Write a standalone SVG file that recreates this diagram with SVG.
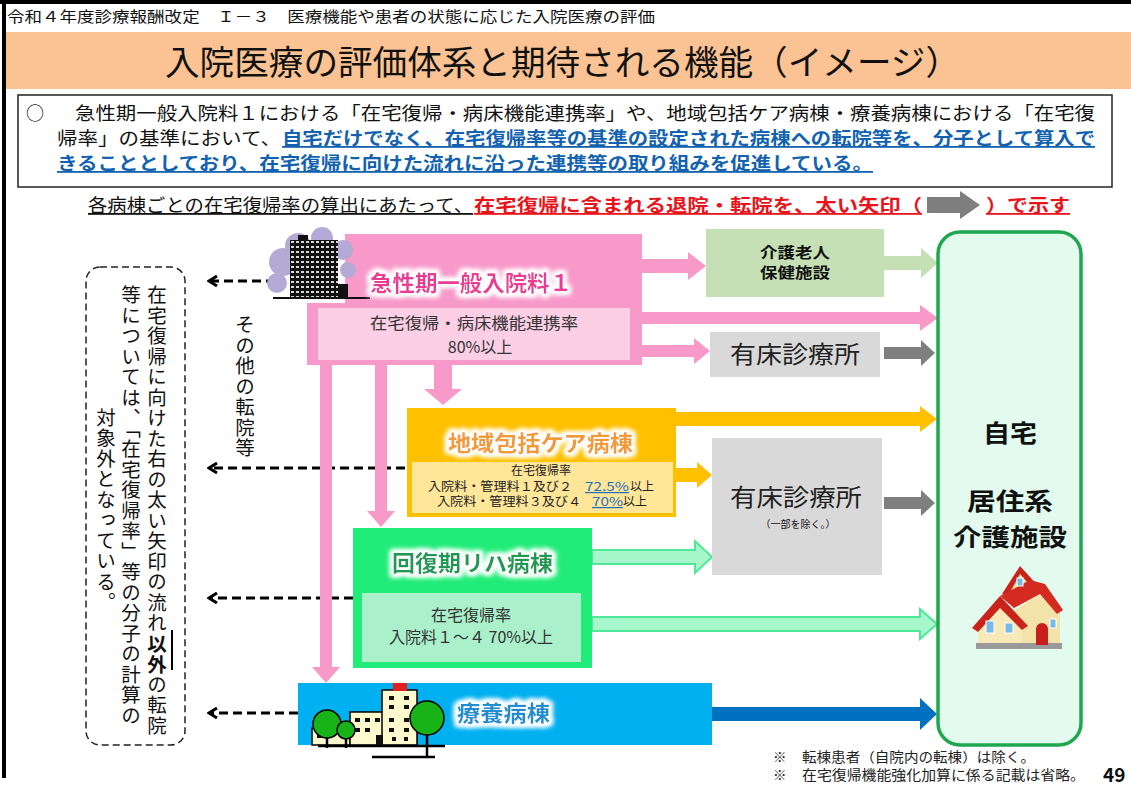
<svg xmlns="http://www.w3.org/2000/svg" width="1131" height="785" viewBox="0 0 1131 785">
<style>
text{font-family:"Noto Sans CJK JP","Noto Sans",sans-serif;fill:#111}
.hd{font-size:15px}
.ttl{font-size:34px}
.intro{font-size:18px}
.em{fill:#1262b0;font-weight:bold;text-decoration:underline}
.sub{font-size:18px;text-decoration:underline}
.red{fill:#e8141c;font-weight:bold}
.vt{font-size:19.5px;writing-mode:vertical-rl;letter-spacing:1px}
.wt{font-weight:bold;font-size:22px}
.sm{font-size:12px;fill:#222}
.md{font-size:16px;fill:#333}
.clinic{font-size:24px;fill:#222}
.home{font-size:24px;font-weight:bold;fill:#111}
.note{font-size:13.5px;fill:#222}
.dash{stroke:#000;stroke-width:3;stroke-dasharray:9 5;fill:none}
.pink{fill:#f79ac9}
.orng{fill:#ffc000}
.grn{fill:#a8f6cc;stroke:#4fe896;stroke-width:2}
.gry{fill:#7f7f7f}
</style>
<defs>
<filter id="glow" x="-20%" y="-50%" width="140%" height="200%">
<feMorphology in="SourceAlpha" operator="dilate" radius="2.5" result="d"/>
<feGaussianBlur in="d" stdDeviation="2.5" result="b"/>
<feFlood flood-color="#ffffff"/>
<feComposite in2="b" operator="in" result="g"/>
<feMerge><feMergeNode in="g"/><feMergeNode in="g"/><feMergeNode in="SourceGraphic"/></feMerge>
</filter>
<marker id="chev" viewBox="0 0 11 12" refX="9" refY="6" markerWidth="11" markerHeight="12" orient="auto" markerUnits="userSpaceOnUse">
<path d="M1,1 L9,6 L1,11" fill="none" stroke="#000" stroke-width="3" stroke-dasharray="none"/>
</marker>
<pattern id="win" width="5" height="5" patternUnits="userSpaceOnUse">
<rect x="1" y="1" width="3" height="2" fill="#d8d8d8"/>
</pattern>
</defs>

<!-- page frame -->
<g id="frame">
<rect x="0" y="0" width="1131" height="4" fill="#000"/>
<rect x="2" y="0" width="4" height="778" fill="#000"/>
</g>

<!-- header and title band -->
<g id="header">
<text class="hd" x="7" y="22" textLength="648" lengthAdjust="spacingAndGlyphs">令和４年度診療報酬改定　Ｉ－３　医療機能や患者の状態に応じた入院医療の評価</text>
<rect x="6" y="32" width="1125" height="57" fill="#fbc293"/>
<text class="ttl" x="165" y="75" textLength="795" lengthAdjust="spacingAndGlyphs">入院医療の評価体系と期待される機能（イメージ）</text>
</g>

<!-- summary box -->
<g id="intro">
<rect x="18" y="95" width="1094" height="92" fill="#fff" stroke="#222" stroke-width="1.5"/>
<text class="intro" x="26" y="120">○</text>
<text class="intro" x="75" y="120" textLength="1020" lengthAdjust="spacingAndGlyphs">急性期一般入院料１における「在宅復帰・病床機能連携率」や、地域包括ケア病棟・療養病棟における「在宅復</text>
<text class="intro" x="57" y="145" textLength="224" lengthAdjust="spacingAndGlyphs">帰率」の基準において、</text>
<text class="intro em" x="282" y="145" textLength="813" lengthAdjust="spacingAndGlyphs">自宅だけでなく、在宅復帰率等の基準の設定された病棟への転院等を、分子として算入で</text>
<text class="intro em" x="57" y="170" textLength="816" lengthAdjust="spacingAndGlyphs">きることとしており、在宅復帰に向けた流れに沿った連携等の取り組みを促進している。</text>
</g>

<!-- legend line -->
<g id="legend">
<text class="sub" x="88" y="212" textLength="385" lengthAdjust="spacingAndGlyphs">各病棟ごとの在宅復帰率の算出にあたって、</text>
<text class="sub red" x="474" y="212" textLength="448" lengthAdjust="spacingAndGlyphs">在宅復帰に含まれる退院・転院を、太い矢印（</text>
<polygon class="gry" points="927,197 960,197 960,191 980,205 960,219 960,213 927,213"/>
<text class="sub red" x="986" y="212" textLength="84" lengthAdjust="spacingAndGlyphs">）で示す</text>
</g>

<!-- dashed note box with vertical text -->
<g id="note">
<rect x="86" y="267" width="99" height="478" rx="14" fill="none" stroke="#222" stroke-width="1.5" stroke-dasharray="7 4"/>
<text class="vt" x="157" y="285">在宅復帰に向けた右の太い矢印の流れ<tspan font-weight="bold">以外</tspan>の転院</text>
<line x1="172" y1="630" x2="172" y2="670" stroke="#000" stroke-width="2"/>
<text class="vt" x="131" y="285">等については、「在宅復帰率」等の分子の計算の</text>
<text class="vt" x="106" y="510" text-anchor="middle">対象外となっている。</text>
<text class="vt" x="245" y="315">その他の転院等</text>
</g>

<!-- connectors -->
<g id="connectors">
<line class="dash" x1="275" y1="281" x2="209" y2="281" marker-end="url(#chev)"/>
<line class="dash" x1="405" y1="468" x2="209" y2="468" marker-end="url(#chev)"/>
<line class="dash" x1="353" y1="598" x2="209" y2="598" marker-end="url(#chev)"/>
<line class="dash" x1="298" y1="713" x2="209" y2="713" marker-end="url(#chev)"/>

<polygon class="pink" points="642,259 688,259 688,252 706,266 688,280 688,273 642,273"/>
<polygon class="pink" points="642,312 920,312 920,305 938,318 920,331 920,324 642,324"/>
<polygon class="pink" points="642,345 694,345 694,338 710,351 694,364 694,357 642,357"/>
<polygon class="pink" points="434,365 452,365 452,389 462,389 443,405 424,389 434,389"/>
<polygon class="pink" points="375,365 387,365 387,511 395,511 381,527 367,511 375,511"/>
<polygon class="pink" points="320,365 332,365 332,667 340,667 326,683 312,667 320,667"/>

<polygon class="orng" points="675,412 920,412 920,406 937,419 920,432 920,426 675,426"/>
<polygon class="orng" points="675,468 697,468 697,462 712,475 697,488 697,482 675,482"/>

<polygon class="grn" points="592,550 695,550 695,541 712,557 695,573 695,564 592,564"/>
<polygon class="grn" points="592,617 920,617 920,609 937,624 920,639 920,631 592,631"/>

<polygon fill="#c5e0b4" points="884,256 921,256 921,248 938,263 921,278 921,270 884,270"/>
<polygon class="gry" points="884,347 921,347 921,340 935,353 921,366 921,359 884,359"/>
<polygon class="gry" points="884,497 921,497 921,490 935,503 921,516 921,509 884,509"/>
<polygon fill="#0070c0" points="712,707 920,707 920,698 937,714 920,730 920,721 712,721"/>
</g>

<!-- acute care ward -->
<g id="acute">
<path d="M345,234 H642 V365 H307 V303 H345 Z" fill="#f79ac9"/>
<rect x="318" y="308" width="312" height="52" fill="#fccfe5"/>
<g fill="#b3abd6">
<circle cx="283" cy="262" r="14"/><circle cx="298" cy="246" r="13"/><circle cx="322" cy="238" r="11"/>
<circle cx="343" cy="250" r="10"/><circle cx="348" cy="270" r="8"/><circle cx="277" cy="283" r="10"/>
</g>
<rect x="290" y="240" width="48" height="58" fill="#111"/>
<rect x="290" y="240" width="48" height="58" fill="url(#win)"/>
<rect x="298" y="235" width="10" height="6" fill="#111"/>
<rect x="338" y="284" width="10" height="14" fill="#111"/>
<line x1="273" y1="298" x2="370" y2="298" stroke="#111" stroke-width="2"/>
<text class="wt" x="370" y="291" style="fill:#ea3a95" filter="url(#glow)" textLength="202" lengthAdjust="spacingAndGlyphs">急性期一般入院料１</text>
<text class="md" x="474" y="329" text-anchor="middle" textLength="208" lengthAdjust="spacingAndGlyphs">在宅復帰・病床機能連携率</text>
<text class="md" x="480" y="353" text-anchor="middle">80%以上</text>
</g>

<!-- community-based care ward -->
<g id="chiiki">
<rect x="407" y="408" width="269" height="109" fill="#ffc000"/>
<rect x="412" y="462" width="261" height="51" fill="#ffe699"/>
<text class="wt" x="448" y="451" style="fill:#f29a34" filter="url(#glow)" textLength="185" lengthAdjust="spacingAndGlyphs">地域包括ケア病棟</text>
<text class="sm" x="541" y="475" text-anchor="middle">在宅復帰率</text>
<text class="sm" x="428" y="491" textLength="144" lengthAdjust="spacingAndGlyphs">入院料・管理料１及び２</text>
<text class="sm" x="585" y="491" textLength="44" lengthAdjust="spacingAndGlyphs" style="fill:#1f6fc0;text-decoration:underline">72.5%</text>
<text class="sm" x="630" y="491">以上</text>
<text class="sm" x="437" y="506" textLength="144" lengthAdjust="spacingAndGlyphs">入院料・管理料３及び４</text>
<text class="sm" x="592" y="506" textLength="31" lengthAdjust="spacingAndGlyphs" style="fill:#1f6fc0;text-decoration:underline">70%</text>
<text class="sm" x="623" y="506">以上</text>
</g>

<!-- convalescent rehabilitation ward -->
<g id="kaifuku">
<rect x="353" y="528" width="239" height="140" fill="#22ec79"/>
<rect x="362" y="593" width="219" height="69" fill="#a9f0cb"/>
<text class="wt" x="392" y="571" style="fill:#1f9a55" filter="url(#glow)" textLength="161" lengthAdjust="spacingAndGlyphs">回復期リハ病棟</text>
<text class="md" x="471" y="621" text-anchor="middle">在宅復帰率</text>
<text class="md" x="471" y="643" text-anchor="middle">入院料１～４ 70%以上</text>
</g>

<!-- long-term care ward -->
<g id="ryoyo">
<rect x="298" y="683" width="414" height="62" fill="#00b0f0"/>
<text class="wt" x="457" y="721" style="fill:#1a8fd2" filter="url(#glow)" textLength="93" lengthAdjust="spacingAndGlyphs">療養病棟</text>
<g stroke="#000" stroke-width="1.5">
<rect x="312" y="728" width="38" height="17" fill="#fffacd"/>
<rect x="350" y="712" width="67" height="33" fill="#fffacd"/>
<rect x="382" y="690" width="35" height="55" fill="#fffacd"/>
</g>
<rect x="393" y="683" width="14" height="8" fill="#e02020"/>
<g fill="#111">
<rect x="389" y="696" width="5" height="4"/><rect x="404" y="696" width="5" height="4"/>
<rect x="389" y="705" width="5" height="4"/><rect x="404" y="705" width="5" height="4"/>
<rect x="355" y="718" width="5" height="4"/><rect x="365" y="718" width="5" height="4"/><rect x="375" y="718" width="5" height="4"/><rect x="389" y="718" width="5" height="4"/><rect x="404" y="718" width="5" height="4"/>
<rect x="355" y="728" width="5" height="4"/><rect x="365" y="728" width="5" height="4"/><rect x="389" y="728" width="5" height="4"/><rect x="404" y="728" width="5" height="4"/>
<rect x="376" y="735" width="7" height="10"/><rect x="392" y="737" width="4" height="4"/><rect x="404" y="737" width="4" height="4"/>
<rect x="317" y="734" width="4" height="4"/><rect x="340" y="734" width="4" height="4"/>
</g>
<g stroke="#000" stroke-width="2.5">
<line x1="318" y1="746" x2="445" y2="746"/>
<line x1="372" y1="757" x2="435" y2="757"/>
<line x1="327" y1="737" x2="327" y2="748"/>
<line x1="346" y1="737" x2="346" y2="748"/>
<line x1="427" y1="733" x2="427" y2="757"/>
</g>
<g fill="#17b317" stroke="#000" stroke-width="1.5">
<circle cx="327" cy="724" r="14"/>
<circle cx="346" cy="730" r="9"/>
<circle cx="427" cy="718" r="17"/>
</g>
</g>

<!-- geriatric health services facility -->
<g id="kaigo">
<rect x="706" y="229" width="178" height="68" fill="#c5e0b4"/>
<text x="795" y="258" text-anchor="middle" font-size="15" font-weight="bold" textLength="70" lengthAdjust="spacingAndGlyphs">介護老人</text>
<text x="795" y="278" text-anchor="middle" font-size="15" font-weight="bold" textLength="70" lengthAdjust="spacingAndGlyphs">保健施設</text>
</g>

<!-- clinics with beds -->
<g id="clinic1">
<rect x="710" y="332" width="170" height="45" fill="#d9d9d9"/>
<text class="clinic" x="795" y="363" text-anchor="middle" textLength="130" lengthAdjust="spacingAndGlyphs">有床診療所</text>
</g>
<g id="clinic2">
<rect x="712" y="438" width="170" height="137" fill="#d9d9d9"/>
<text class="clinic" x="796" y="506" text-anchor="middle" textLength="132" lengthAdjust="spacingAndGlyphs">有床診療所</text>
<text x="798" y="528" text-anchor="middle" font-size="10" fill="#333">（一部を除く。）</text>
</g>

<!-- home / residential care -->
<g id="home">
<rect x="938" y="232" width="143" height="513" rx="22" fill="#e3fbee" stroke="#1da84f" stroke-width="3.5"/>
<text class="home" x="1010" y="442" text-anchor="middle" textLength="54" lengthAdjust="spacingAndGlyphs">自宅</text>
<text class="home" x="1010" y="510" text-anchor="middle" textLength="86" lengthAdjust="spacingAndGlyphs">居住系</text>
<text class="home" x="1010" y="546" text-anchor="middle" textLength="114" lengthAdjust="spacingAndGlyphs">介護施設</text>
<polygon points="1012,612 1040,594 1060,614 1060,645 1012,645" fill="#f3e3a8"/>
<polygon points="978,626 1000,604 1022,626 1022,646 978,646" fill="#f7eab8"/>
<rect x="976" y="643" width="86" height="6" fill="#9a9a9a"/>
<polygon points="1005,592 1020,570 1036,588" fill="#f3e3a8"/>
<polygon points="1002,594 1020,566 1040,588 1035,591 1020,574 1008,596" fill="#c9241c"/>
<polygon points="972,628 1000,596 1028,626 1022,630 1000,608 978,632" fill="#c9241c"/>
<polygon points="1000,596 1030,580 1045,584 1063,610 1057,614 1040,594 1014,608" fill="#d42a20"/>
<path d="M1036,645 V629 a6,6 0 0 1 12,0 V645 Z" fill="#c81e1e"/>
<g fill="#79b9e6" stroke="#fff" stroke-width="1">
<rect x="986" y="621" width="8" height="12"/>
<rect x="1005" y="623" width="8" height="10"/>
<rect x="1017" y="578" width="6" height="8"/>
<rect x="1050" y="619" width="6" height="9"/>
</g>
</g>

<!-- footnotes -->
<g id="notes">
<text class="note" x="773" y="762">※</text>
<text class="note" x="802" y="762" textLength="233" lengthAdjust="spacingAndGlyphs">転棟患者（自院内の転棟）は除く。</text>
<text class="note" x="773" y="780">※</text>
<text class="note" x="802" y="780" textLength="283" lengthAdjust="spacingAndGlyphs">在宅復帰機能強化加算に係る記載は省略。</text>
<text x="1103" y="782" font-size="19" font-weight="bold">49</text>
</g>
</svg>
